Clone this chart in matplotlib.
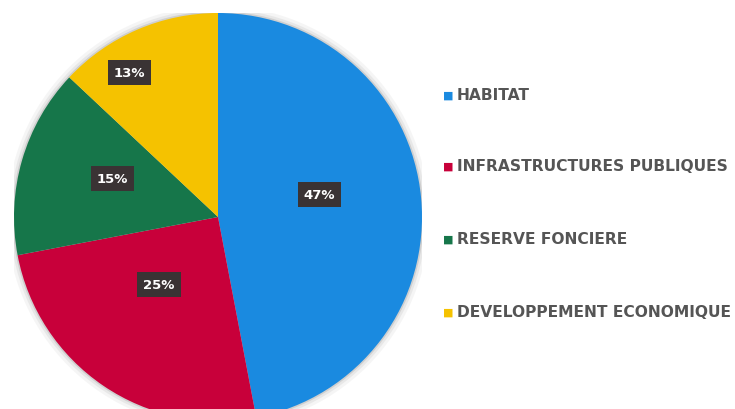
import matplotlib
matplotlib.use('Agg')
import matplotlib.pyplot as plt
import numpy as np
from matplotlib.patches import Circle

# data
labels = ['HABITAT', 'INFRASTRUCTURES PUBLIQUES', 'RESERVE FONCIERE', 'DEVELOPPEMENT ECONOMIQUE']
values = [47, 25, 15, 13]
colors = ['#1a8ae0', '#c8003a', '#16764a', '#f5c200']
label_dist = [0.51, 0.44, 0.55, 0.83]
label_shift = [7, -7, -4, 8]  # degrees

fig = plt.figure(figsize=(7.35, 4.10), dpi=100)
ax = fig.add_axes([14 / 735, -12 / 410, 408 / 735, 408 / 410])

# soft shadow around the pie
for r, a in [(1.035, 0.08), (1.02, 0.12), (1.008, 0.25)]:
    ax.add_patch(Circle((0, 0), r, color='#888888', alpha=a, zorder=0, lw=0))

wedges, _ = ax.pie(values, colors=colors, startangle=90, counterclock=False,
                   radius=1, wedgeprops=dict(linewidth=0))
for w in wedges:
    w.set_zorder(1)

for w, v, d, s in zip(wedges, values, label_dist, label_shift):
    ang = np.deg2rad((w.theta1 + w.theta2) / 2 + s)
    ax.text(d * np.cos(ang), d * np.sin(ang), f'{v}%', ha='center', va='center',
            color='white', fontsize=9.5, fontweight='bold', zorder=3,
            bbox=dict(boxstyle='square,pad=0.45', fc='#3a3334', ec='none'))

ax.set_xlim(-1, 1)
ax.set_ylim(-1, 1)
ax.set_aspect('equal')
ax.axis('off')

# legend
ys = [96, 167, 240, 313]
for lab, c, y in zip(labels, colors, ys):
    fy = 1 - y / 410
    fig.text(443 / 735, fy, '\u25a0', color=c, fontsize=8, va='center', ha='left')
    fig.text(457 / 735, fy, lab, color='#555555', fontsize=11.2, fontweight='bold',
             va='center', ha='left')

fig.savefig('out.png', dpi=100)
